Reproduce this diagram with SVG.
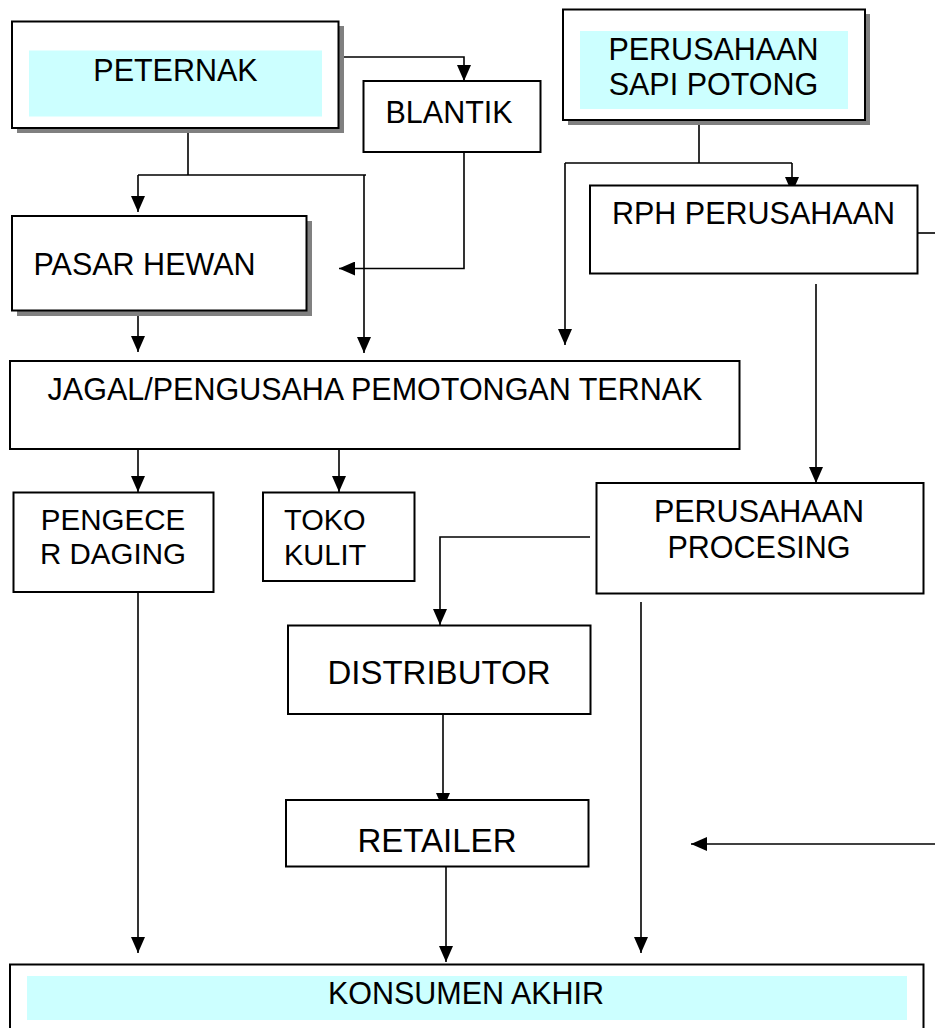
<svg xmlns="http://www.w3.org/2000/svg" width="935" height="1028" viewBox="0 0 935 1028">
<defs>
<marker id="ah" viewBox="0 0 16 14" markerWidth="16" markerHeight="14" refX="16" refY="7" orient="auto" markerUnits="userSpaceOnUse">
<path d="M0,0 L16,7 L0,14 Z" fill="#000"/>
</marker>
<style>
.box{fill:#fff;stroke:#000;stroke-width:2}
.shadow{fill:#808080}
.hl{fill:#ccffff}
.t{font-family:"Liberation Sans",Arial,sans-serif;font-size:30.5px;fill:#000}
.c{text-anchor:middle}
.ln{fill:none;stroke:#000;stroke-width:1.6}
.ar{fill:none;stroke:#000;stroke-width:1.6;marker-end:url(#ah)}
</style>
</defs>
<rect width="935" height="1028" fill="#fff"/>

<g id="connectors">
<path class="ar" d="M339,57 H464 V81"/>
<path class="ln" d="M188,128 V175 M138,175 H366"/>
<path class="ar" d="M138,175 V212"/>
<path class="ar" d="M364,175 V353"/>
<path class="ar" d="M464,152 V268.5 H339"/>
<path class="ar" d="M138,316 V352"/>
<path class="ln" d="M699,120 V163 M565,163 H792"/>
<path class="ar" d="M792,163 V193"/>
<path class="ar" d="M565,163 V345"/>
<path class="ln" d="M918,233 H935"/>
<path class="ar" d="M816,284 V483"/>
<path class="ar" d="M138,449 V492"/>
<path class="ar" d="M339,449 V492"/>
<path class="ar" d="M590,537 H440 V625"/>
<path class="ar" d="M641,602 V953"/>
<path class="ar" d="M138,592 V953"/>
<path class="ar" d="M443,714 V809"/>
<path class="ar" d="M446,867 V962"/>
<path class="ar" d="M935,844 H691"/>
</g>

<g id="peternak">
<rect class="shadow" x="17" y="26" width="327" height="107"/>
<rect class="box" x="12" y="21.5" width="326.5" height="106.5"/>
<rect class="hl" x="29" y="50.5" width="293" height="66"/>
<text class="t c" x="175.5" y="80.5">PETERNAK</text>
</g>

<g id="blantik">
<rect class="box" x="363.5" y="81" width="177" height="71"/>
<text class="t" x="385.5" y="122.5">BLANTIK</text>
</g>

<g id="pasar-hewan">
<rect class="shadow" x="17" y="221" width="295" height="95"/>
<rect class="box" x="12" y="216" width="294.5" height="94.5"/>
<text class="t" x="33.5" y="274.5">PASAR HEWAN</text>
</g>

<g id="perusahaan-sapi">
<rect class="shadow" x="568" y="14" width="302" height="111"/>
<rect class="box" x="563" y="9.5" width="302" height="110.5"/>
<rect class="hl" x="580" y="31" width="268" height="78"/>
<text class="t c" x="713.5" y="60">PERUSAHAAN</text>
<text class="t c" x="713.5" y="94.5">SAPI POTONG</text>
</g>

<g id="rph">
<rect class="box" x="590" y="185.5" width="327.5" height="88"/>
<text class="t" x="612" y="224">RPH PERUSAHAAN</text>
</g>

<g id="jagal">
<rect class="box" x="10" y="361" width="729.5" height="88"/>
<text class="t c" x="375" y="400">JAGAL/PENGUSAHA PEMOTONGAN TERNAK</text>
</g>

<g id="pengecer">
<rect class="box" x="13.5" y="492.5" width="200" height="99.5"/>
<text class="t c" x="113" y="530" style="font-size:29.5px">PENGECE</text>
<text class="t c" x="113" y="563.5" style="font-size:29.5px">R DAGING</text>
</g>

<g id="toko-kulit">
<rect class="box" x="263" y="492.5" width="151.5" height="88.5"/>
<text class="t" x="284" y="530" style="font-size:29px">TOKO</text>
<text class="t" x="284" y="565" style="font-size:29px">KULIT</text>
</g>

<g id="processing">
<rect class="box" x="596.5" y="483" width="327" height="110.5"/>
<text class="t c" x="759" y="521.5">PERUSAHAAN</text>
<text class="t c" x="759" y="557.5">PROCESING</text>
</g>

<g id="distributor">
<rect class="box" x="288" y="625.5" width="302.5" height="88.5"/>
<text class="t c" x="439" y="683.5" style="font-size:33px">DISTRIBUTOR</text>
</g>

<g id="retailer">
<rect class="box" x="286" y="800" width="302.5" height="66.5"/>
<text class="t c" x="437" y="851.5" style="font-size:33px">RETAILER</text>
</g>

<g id="konsumen">
<rect class="box" x="10" y="964.5" width="913.5" height="80"/>
<rect class="hl" x="27" y="976" width="880" height="44"/>
<text class="t c" x="466" y="1003.5">KONSUMEN AKHIR</text>
</g>
</svg>
